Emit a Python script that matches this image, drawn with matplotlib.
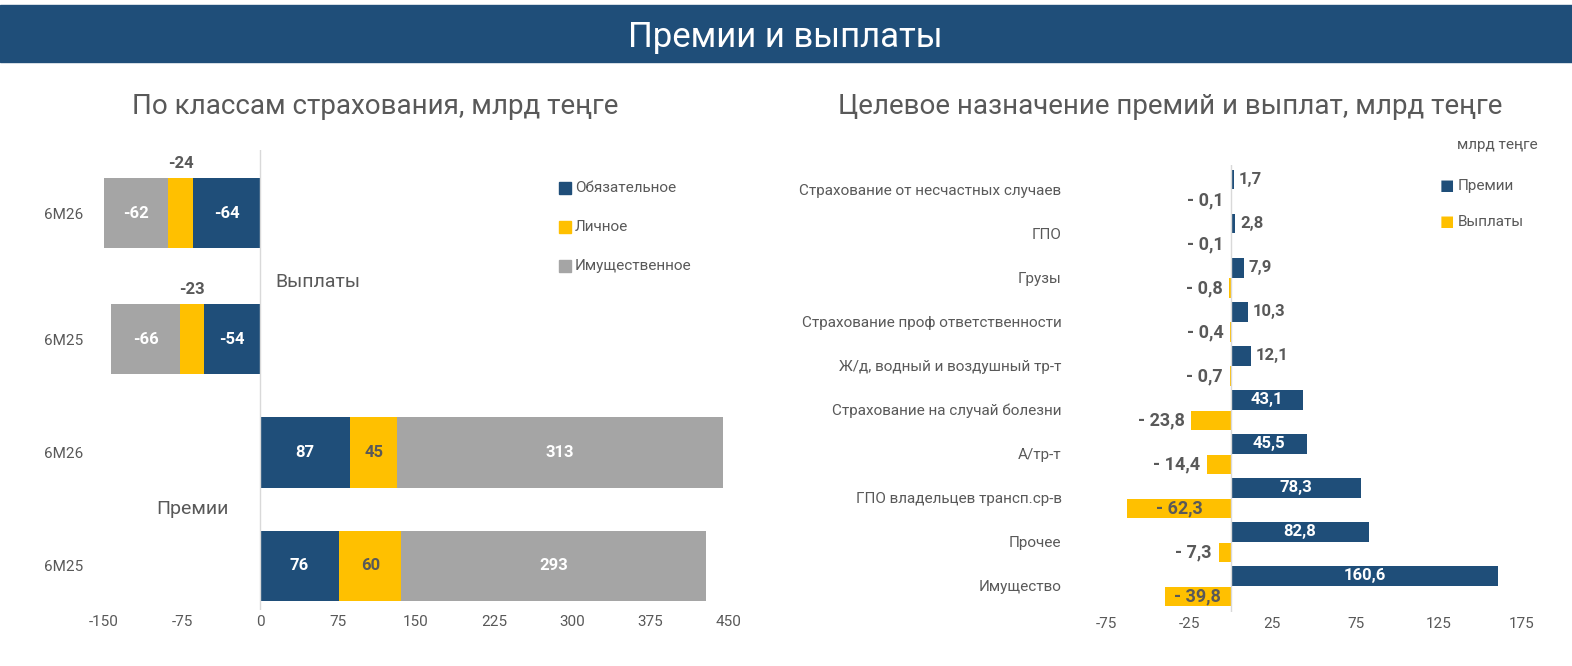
import matplotlib.pyplot as plt
import numpy as np

plt.rcParams['font.family'] = ['Liberation Sans Narrow', 'DejaVu Sans Condensed', 'Roboto', 'DejaVu Sans']
plt.rcParams['axes.unicode_minus'] = False

BLUE = '#1F4E79'
YEL = '#FFC000'
GREY = '#A5A5A5'
TXT = '#595959'

# left chart data
left_cats = ['6M26', '6M25', '6M26', '6M25']
left_pos = [0, 1, 1.9, 2.8]
oblig = [-64, -54, 87, 76]
lichn = [-24, -23, 45, 60]
imush = [-62, -66, 313, 293]
left_ticks = [-150, -75, 0, 75, 150, 225, 300, 375, 450]

# right chart data
right_cats = ['Страхование от несчастных случаев', 'ГПО', 'Грузы',
              'Страхование проф ответственности', 'Ж/д, водный и воздушный тр-т',
              'Страхование на случай болезни', 'А/тр-т', 'ГПО владельцев трансп.ср-в',
              'Прочее', 'Имущество']
premii = [1.7, 2.8, 7.9, 10.3, 12.1, 43.1, 45.5, 78.3, 82.8, 160.6]
vyplaty = [-0.1, -0.1, -0.8, -0.4, -0.7, -23.8, -14.4, -62.3, -7.3, -39.8]
right_ticks = [-75, -25, 25, 75, 125, 175]

W, H = 1572, 666
fig = plt.figure(figsize=(W / 100, H / 100), dpi=100)

def ax_px(x0, y0, x1, y1):
    return fig.add_axes([x0 / W, 1 - y1 / H, (x1 - x0) / W, (y1 - y0) / H])

# banner
fig.patches.append(plt.Rectangle((0, 1 - 62 / H), 1, 57 / H, transform=fig.transFigure,
                                 color=BLUE, zorder=0))
fig.text(785 / W, 1 - 37 / H, 'Премии и выплаты', color='white', fontsize=25,
         ha='center', va='center')
fig.text(375 / W, 1 - 107 / H, 'По классам страхования, млрд теңге', color=TXT,
         fontsize=20, ha='center', va='center')
fig.text(1170 / W, 1 - 107 / H, 'Целевое назначение премий и выплат, млрд теңге',
         color=TXT, fontsize=20, ha='center', va='center')

# left chart
ax = ax_px(104, 150, 728, 610)
h = 0.56
left = np.zeros(4)
for vals, col in [(oblig, BLUE), (lichn, YEL), (imush, GREY)]:
    v = np.array(vals, dtype=float)
    ax.barh(left_pos, v, left=left, height=h, color=col)
    for i, val in enumerate(v):
        cx = left[i] + val / 2
        if col == YEL and val < 0:
            ax.text(cx, left_pos[i] - h / 2 - 0.05, f'{int(val)}', ha='center', va='bottom',
                    fontsize=12, fontweight='bold', color=TXT)
        else:
            tc = TXT if col == YEL else 'white'
            ax.text(cx, left_pos[i], f'{int(val)}', ha='center', va='center',
                    fontsize=12, fontweight='bold', color=tc)
    left = left + v
ax.set_xlim(-150, 450)
ax.set_ylim(3.15, -0.5)
ax.set_xticks(left_ticks)
ax.set_yticks(left_pos)
ax.set_yticklabels(left_cats)
ax.tick_params(length=0, labelsize=11, colors=TXT)
ax.tick_params(axis='y', pad=15)
for s in ax.spines.values():
    s.set_visible(False)
ax.axvline(0, color='#D9D9D9', lw=1)
ax.text(15, 0.55, 'Выплаты', fontsize=14, color=TXT, va='center')
ax.text(-65, 2.35, 'Премии', fontsize=14, color=TXT, va='center', ha='center')
for i, (lab, col) in enumerate([('Обязательное', BLUE), ('Личное', YEL), ('Имущественное', GREY)]):
    ax.plot(293, -0.2 + i * 0.31, 's', color=col, ms=8)
    ax.text(303, -0.2 + i * 0.31, lab, fontsize=11, color=TXT, va='center')

# right chart
ax2 = ax_px(1106, 165, 1522, 612)
y = np.arange(len(right_cats))
bh = 0.45
ax2.barh(y - 0.22, premii, height=bh, color=BLUE)
ax2.barh(y + 0.25, vyplaty, height=bh, color=YEL)
for i in range(len(y)):
    p = premii[i]
    if p > 40:
        ax2.text(p / 2, y[i] - 0.22, f'{p:.1f}'.replace('.', ','), ha='center', va='center',
                 fontsize=12, fontweight='bold', color='white')
    else:
        ax2.text(p + 3, y[i] - 0.22, f'{p:.1f}'.replace('.', ','), ha='left', va='center',
                 fontsize=12, fontweight='bold', color=TXT)
    v = vyplaty[i]
    s = '- ' + f'{abs(v):.1f}'.replace('.', ',')
    if abs(v) > 30:
        ax2.text(v / 2, y[i] + 0.25, s, ha='center', va='center', fontsize=13,
                 fontweight='bold', color=TXT)
    else:
        ax2.text(v - 4, y[i] + 0.25, s, ha='right', va='center', fontsize=13,
                 fontweight='bold', color=TXT)
ax2.set_xlim(-75, 175)
ax2.set_ylim(9.6, -0.55)
ax2.set_xticks(right_ticks)
ax2.set_yticks(y)
ax2.set_yticklabels(right_cats)
ax2.tick_params(length=0, labelsize=11, colors=TXT)
ax2.tick_params(axis='y', pad=32)
for s in ax2.spines.values():
    s.set_visible(False)
ax2.axvline(0, color='#D9D9D9', lw=1)
fig.text(1497 / W, 1 - 145 / H, 'млрд теңге', fontsize=11, color=TXT, ha='center', va='center')
for i, (lab, col) in enumerate([('Премии', BLUE), ('Выплаты', YEL)]):
    yy = 1 - (186 + i * 36) / H
    fig.text(1440 / W, yy, '■', fontsize=11, color=col, ha='left', va='center')
    fig.text(1458 / W, yy, lab, fontsize=11, color=TXT, ha='left', va='center')

fig.savefig('out.png', dpi=100)
